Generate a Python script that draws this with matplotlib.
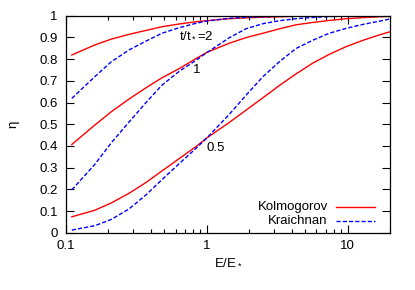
import matplotlib
matplotlib.use("Agg")
import matplotlib.pyplot as plt
from matplotlib.ticker import FixedLocator, LogLocator, NullFormatter

plt.rcParams['font.family'] = ['Liberation Sans', 'DejaVu Sans']
plt.rcParams['mathtext.fontset'] = 'custom'
plt.rcParams['mathtext.rm'] = 'Liberation Sans'
plt.rcParams['mathtext.it'] = 'Liberation Sans'

# E/E* sample points
energy = [0.11, 0.16, 0.21, 0.28, 0.37, 0.48, 0.64, 0.84, 1.0, 1.44,
          1.9, 2.5, 3.3, 4.3, 5.7, 7.4, 9.8, 12.9, 16.9, 20]

# Kolmogorov (red, solid)
kol_t2 = [0.819, 0.865, 0.892, 0.914, 0.932, 0.949, 0.962, 0.972, 0.977, 0.986,
          0.990, 0.993, 0.995, 0.997, 0.998, 0.999, 1.0, 1.0, 1.0, 1.0]
kol_t1 = [0.407, 0.496, 0.558, 0.616, 0.668, 0.714, 0.757, 0.803, 0.831, 0.873,
          0.899, 0.919, 0.940, 0.958, 0.969, 0.978, 0.986, 0.991, 0.995, 0.997]
kol_t05 = [0.074, 0.104, 0.138, 0.182, 0.232, 0.285, 0.343, 0.398, 0.437, 0.508,
           0.565, 0.622, 0.680, 0.732, 0.783, 0.822, 0.858, 0.887, 0.912, 0.926]

# Kraichnan (blue, dashed)
kra_t2 = [0.619, 0.719, 0.788, 0.842, 0.883, 0.919, 0.945, 0.965, 0.975, 0.988,
          0.992, 0.995, 0.997, 0.998, 0.999, 1.0, 1.0, 1.0, 1.0, 1.0]
kra_t1 = [0.198, 0.315, 0.415, 0.510, 0.600, 0.680, 0.745, 0.795, 0.830, 0.898,
          0.940, 0.963, 0.977, 0.986, 0.992, 0.996, 0.998, 0.999, 1.0, 1.0]
kra_t05 = [0.013, 0.033, 0.062, 0.110, 0.175, 0.245, 0.320, 0.390, 0.437, 0.545,
           0.634, 0.719, 0.790, 0.849, 0.888, 0.919, 0.942, 0.960, 0.975, 0.985]

fig = plt.figure(figsize=(4.15, 2.9), dpi=100)
ax = fig.add_axes([0.159, 0.197, 0.781, 0.749])

red = '#ff0000'
blue = '#0000ff'
dash = (0, (3, 1.5))

for ys in [kol_t2, kol_t1, kol_t05]:
    ax.plot(energy, ys, color=red, lw=1)
for ys in [kra_t2, kra_t1, kra_t05]:
    ax.plot(energy, ys, color=blue, lw=1, linestyle=dash)

ax.set_xscale('log')
ax.set_xlim(0.1, 20)
ax.set_ylim(0, 1)
ax.xaxis.set_major_locator(FixedLocator([0.1, 1, 10]))
ax.set_xticklabels(['0.1', '1', '10'])
ax.xaxis.set_minor_locator(LogLocator(base=10, subs=range(2, 10)))
ax.xaxis.set_minor_formatter(NullFormatter())
ax.set_yticks([i / 10 for i in range(11)])
ax.set_yticklabels(['0', '0.1', '0.2', '0.3', '0.4', '0.5', '0.6', '0.7', '0.8', '0.9', '1'])

fs = 9.5
ax.tick_params(which='both', direction='in', top=True, right=True, labelsize=fs, width=0.8)
ax.tick_params(which='major', length=5.5)
ax.tick_params(which='minor', length=3)
ax.tick_params(axis='x', which='major', pad=5)
ax.tick_params(axis='y', which='major', pad=6)
for s in ax.spines.values():
    s.set_linewidth(0.9)

ax.set_xlabel('E/E$_*$', fontsize=fs, labelpad=3)
ax.set_ylabel('η', fontsize=fs, labelpad=14)

# curve labels
ax.text(0.84, 0.912, 't/t$_*$=2', fontsize=fs, ha='center', va='center')
ax.text(0.846, 0.75, '1', fontsize=fs, ha='center', va='center')
ax.text(1.16, 0.393, '0.5', fontsize=fs, ha='center', va='center')

# legend, gnuplot style (text right-aligned, sample to the right)
ax.text(0.808, 0.118, 'Kolmogorov', fontsize=fs, ha='right', va='center', transform=ax.transAxes)
ax.text(0.808, 0.055, 'Kraichnan', fontsize=fs, ha='right', va='center', transform=ax.transAxes)
ax.plot([0.833, 0.954], [0.118, 0.118], color=red, lw=1, transform=ax.transAxes)
ax.plot([0.833, 0.954], [0.055, 0.055], color=blue, lw=1, linestyle=dash, transform=ax.transAxes)

fig.savefig('out.png', dpi=100)
